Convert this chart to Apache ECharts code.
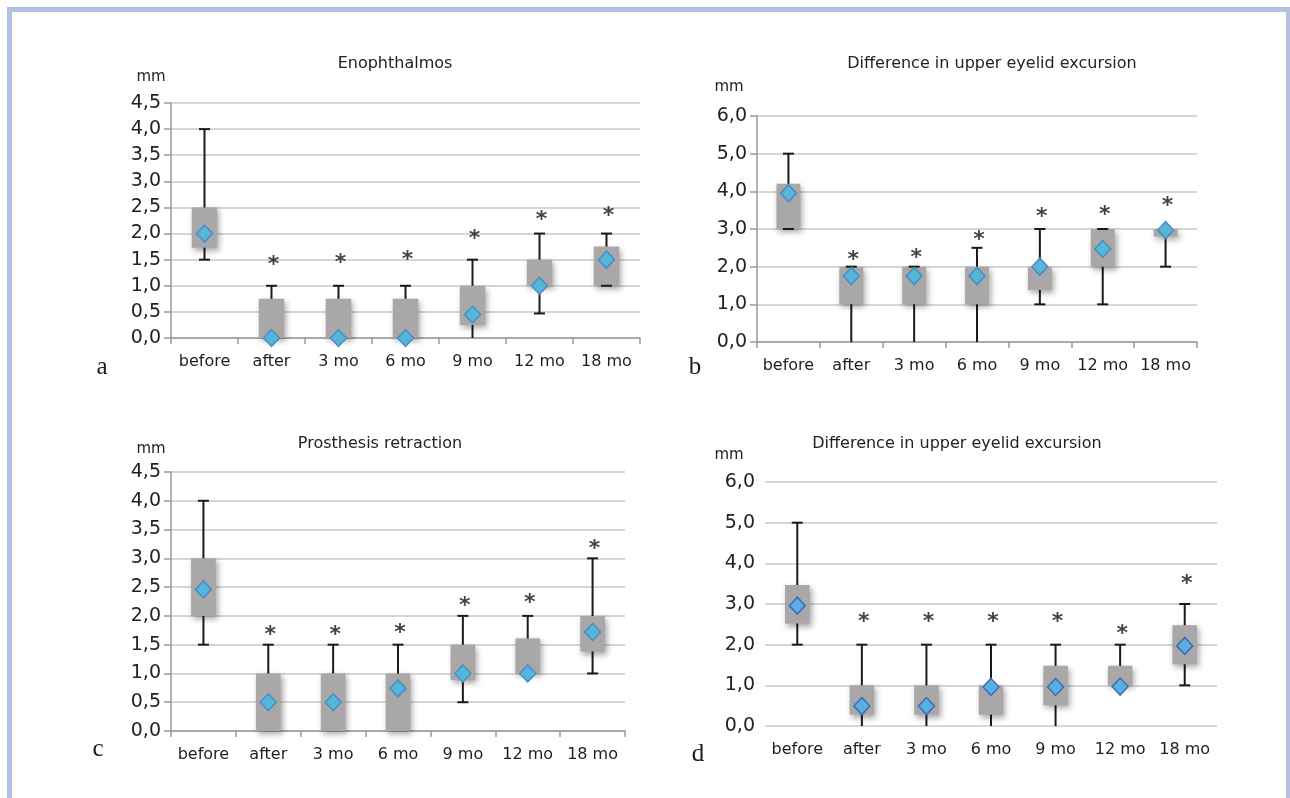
<!DOCTYPE html>
<html>
<head>
<meta charset="utf-8">
<script src="https://cdn.jsdelivr.net/npm/echarts@6/dist/echarts.min.js"></script>
<style>
html,body{margin:0;padding:0;background:#fff;}
#chart{width:1290px;height:798px;}
</style>
</head>
<body>
<div id="chart"></div>
<script>
const categories = ['before', 'after', '3 mo', '6 mo', '9 mo', '12 mo', '18 mo'];

// Panel a: Enophthalmos
const aTitle = 'Enophthalmos';
const aWhiskerLow  = [1.5, 0, 0, 0, 0, 0.47, 1.0];
const aWhiskerHigh = [4.0, 1.0, 1.0, 1.0, 1.5, 2.0, 2.0];
const aBoxLow      = [1.73, 0, 0, 0, 0.25, 1.0, 1.0];
const aBoxHigh     = [2.5, 0.75, 0.75, 0.75, 1.0, 1.5, 1.75];
const aMean        = [2.0, 0, 0, 0, 0.45, 1.0, 1.5];
const aStar        = [null, 1.5, 1.55, 1.6, 2.0, 2.37, 2.45];
const aTicks       = [0, 4.5, 0.5];

// Panel b: Difference in upper eyelid excursion
const bTitle = 'Difference in upper eyelid excursion';
const bWhiskerLow  = [3.0, 0, 0, 0, 1.0, 1.0, 2.0];
const bWhiskerHigh = [5.0, 2.0, 2.0, 2.5, 3.0, 3.0, 3.0];
const bBoxLow      = [3.0, 1.0, 1.0, 1.0, 1.38, 2.0, 2.8];
const bBoxHigh     = [4.2, 2.0, 2.0, 2.0, 2.0, 3.0, 3.0];
const bMean        = [3.95, 1.75, 1.75, 1.75, 2.0, 2.47, 2.97];
const bStar        = [null, 2.32, 2.37, 2.86, 3.48, 3.53, 3.75];
const bTicks       = [0, 6, 1];

// Panel c: Prosthesis retraction
const cTitle = 'Prosthesis retraction';
const cWhiskerLow  = [1.5, 0, 0, 0, 0.5, 1.0, 1.0];
const cWhiskerHigh = [4.0, 1.5, 1.5, 1.5, 2.0, 2.0, 3.0];
const cBoxLow      = [2.0, 0, 0, 0, 0.88, 1.0, 1.38];
const cBoxHigh     = [3.0, 1.0, 1.0, 1.0, 1.5, 1.61, 2.0];
const cMean        = [2.46, 0.5, 0.5, 0.74, 1.0, 1.0, 1.72];
const cStar        = [null, 1.76, 1.76, 1.8, 2.27, 2.33, 3.26];
const cTicks       = [0, 4.5, 0.5];

// Panel d: Difference in upper eyelid excursion
const dTitle = 'Difference in upper eyelid excursion';
const dWhiskerLow  = [2.0, 0, 0, 0, 0, 1.0, 1.0];
const dWhiskerHigh = [5.0, 2.0, 2.0, 2.0, 2.0, 2.0, 3.0];
const dBoxLow      = [2.52, 0.28, 0.28, 0.28, 0.51, 1.0, 1.52];
const dBoxHigh     = [3.47, 1.0, 1.0, 1.0, 1.48, 1.48, 2.48];
const dMean        = [2.96, 0.49, 0.49, 0.96, 0.96, 0.97, 1.97];
const dStar        = [null, 2.69, 2.69, 2.69, 2.69, 2.4, 3.63];
const dTicks       = [0, 6, 1];

const panelLetters = ['a', 'b', 'c', 'd'];
const unitLabel = 'mm';

const FONT = '"DejaVu Sans", "Liberation Sans", sans-serif';

const panels = [
  { title: aTitle, wl: aWhiskerLow, wh: aWhiskerHigh, bl: aBoxLow, bh: aBoxHigh, mean: aMean, star: aStar, ticks: aTicks,
    grid: { left: 171, top: 103, width: 469, height: 235 }, titlePos: [390, 51], mmPos: [146, 65], letterPos: [97, 350], axes: true,
    diamond: { fill: '#55b6d8', border: '#4a8cc4' } },
  { title: bTitle, wl: bWhiskerLow, wh: bWhiskerHigh, bl: bBoxLow, bh: bBoxHigh, mean: bMean, star: bStar, ticks: bTicks,
    grid: { left: 757, top: 116, width: 440, height: 226 }, titlePos: [987, 51], mmPos: [724, 75], letterPos: [690, 350], axes: true,
    diamond: { fill: '#55b6d8', border: '#4a8cc4' } },
  { title: cTitle, wl: cWhiskerLow, wh: cWhiskerHigh, bl: cBoxLow, bh: cBoxHigh, mean: cMean, star: cStar, ticks: cTicks,
    grid: { left: 171, top: 472, width: 454, height: 259 }, titlePos: [375, 431], mmPos: [146, 437], letterPos: [93, 732], axes: true,
    diamond: { fill: '#55b6d8', border: '#4a8cc4' } },
  { title: dTitle, wl: dWhiskerLow, wh: dWhiskerHigh, bl: dBoxLow, bh: dBoxHigh, mean: dMean, star: dStar, ticks: dTicks,
    grid: { left: 765, top: 482, width: 452, height: 244 }, titlePos: [952, 431], mmPos: [724, 443], letterPos: [693, 737], axes: false,
    diamond: { fill: '#5aaee0', border: '#3a6db5' } }
];

function renderBox(params, api) {
  const x = api.value(0);
  const wl = api.value(1), wh = api.value(2), bl = api.value(3), bh = api.value(4);
  const pWl = api.coord([x, wl]);
  const pWh = api.coord([x, wh]);
  const pBl = api.coord([x, bl]);
  const pBh = api.coord([x, bh]);
  const bw = api.size([1, 0])[0] * 0.38;
  const capW = 11;
  const cx = pWl[0];
  const children = [];
  children.push({ type: 'line', shape: { x1: cx, y1: pWl[1], x2: cx, y2: pWh[1] },
    style: { stroke: '#1a1a1a', lineWidth: 2 } });
  children.push({ type: 'rect', shape: { x: cx - bw / 2, y: pBh[1], width: bw, height: pBl[1] - pBh[1] },
    style: { fill: '#a9a7a7', shadowBlur: 6, shadowColor: 'rgba(0,0,0,0.35)', shadowOffsetX: 2, shadowOffsetY: 3 } });
  if (wh > 0) children.push({ type: 'line', shape: { x1: cx - capW / 2, y1: pWh[1], x2: cx + capW / 2, y2: pWh[1] },
    style: { stroke: '#1a1a1a', lineWidth: 2 } });
  if (wl > 0) children.push({ type: 'line', shape: { x1: cx - capW / 2, y1: pWl[1], x2: cx + capW / 2, y2: pWl[1] },
    style: { stroke: '#1a1a1a', lineWidth: 2 } });
  return { type: 'group', children };
}

const fmt = v => v.toFixed(1).replace('.', ',');

const option = {
  animation: false,
  backgroundColor: '#ffffff',
  title: [],
  grid: [],
  xAxis: [],
  yAxis: [],
  series: [],
  graphic: [
    { type: 'rect', shape: { x: 7, y: 7, width: 1283, height: 5 }, style: { fill: '#b3c1e1' }, silent: true },
    { type: 'rect', shape: { x: 7, y: 7, width: 5, height: 791 }, style: { fill: '#b3c1e1' }, silent: true },
    { type: 'rect', shape: { x: 1286, y: 7, width: 4, height: 791 }, style: { fill: '#b3c1e1' }, silent: true }
  ]
};

panels.forEach((p, i) => {
  option.title.push({ text: p.title, left: p.titlePos[0], top: p.titlePos[1], textAlign: 'center',
    textStyle: { fontFamily: FONT, fontSize: 16, fontWeight: 'normal', color: '#222' } });
  option.title.push({ text: unitLabel, left: p.mmPos[0], top: p.mmPos[1], textAlign: 'center',
    textStyle: { fontFamily: FONT, fontSize: 15, fontWeight: 'normal', color: '#222' } });
  option.title.push({ text: panelLetters[i], left: p.letterPos[0], top: p.letterPos[1], textAlign: 'center',
    textStyle: { fontFamily: '"Liberation Serif", "DejaVu Serif", serif', fontSize: 25, fontWeight: 'normal', color: '#1a1a1a' } });

  option.grid.push(Object.assign({ containLabel: false }, p.grid));

  option.xAxis.push({
    type: 'category', gridIndex: i, data: categories, boundaryGap: true,
    axisLine: { show: p.axes, lineStyle: { color: '#9a9a9a', width: 1.5 } },
    axisTick: { show: p.axes, length: 6, lineStyle: { color: '#9a9a9a', width: 1.5 } },
    axisLabel: { fontFamily: FONT, fontSize: 16, color: '#1e1e1e', margin: 16, interval: 0, hideOverlap: false },
    splitLine: { show: false }
  });
  option.yAxis.push({
    type: 'value', gridIndex: i, min: p.ticks[0], max: p.ticks[1], interval: p.ticks[2],
    axisLine: { show: p.axes, lineStyle: { color: '#9a9a9a', width: 1.5 } },
    axisTick: { show: p.axes, length: 7, lineStyle: { color: '#9a9a9a', width: 1.5 } },
    axisLabel: { fontFamily: FONT, fontSize: 19, color: '#222', margin: 10, formatter: fmt },
    splitLine: { show: true, lineStyle: { color: '#c9c9c9', width: 1.5 } }
  });

  option.series.push({
    type: 'custom', xAxisIndex: i, yAxisIndex: i, renderItem: renderBox,
    encode: { x: 0, y: [1, 2, 3, 4] },
    data: categories.map((c, k) => [k, p.wl[k], p.wh[k], p.bl[k], p.bh[k]]),
    z: 2
  });
  option.series.push({
    type: 'scatter', xAxisIndex: i, yAxisIndex: i, symbol: 'diamond', symbolSize: [16, 17],
    itemStyle: { color: p.diamond.fill, borderColor: p.diamond.border, borderWidth: 1.5, opacity: 1 },
    data: categories.map((c, k) => [k, p.mean[k]]),
    z: 3
  });
  option.series.push({
    type: 'scatter', xAxisIndex: i, yAxisIndex: i, symbolSize: 0,
    label: { show: true, position: 'inside', formatter: '*', fontFamily: FONT, fontSize: 22, fontWeight: 'bold', color: '#111', offset: [2, 6] },
    data: categories.map((c, k) => p.star[k] == null ? null : [k, p.star[k]]).filter(d => d !== null),
    z: 4
  });
});

const chart = echarts.init(document.getElementById('chart'), null, { renderer: 'canvas' });
chart.setOption(option);
</script>
</body>
</html>
